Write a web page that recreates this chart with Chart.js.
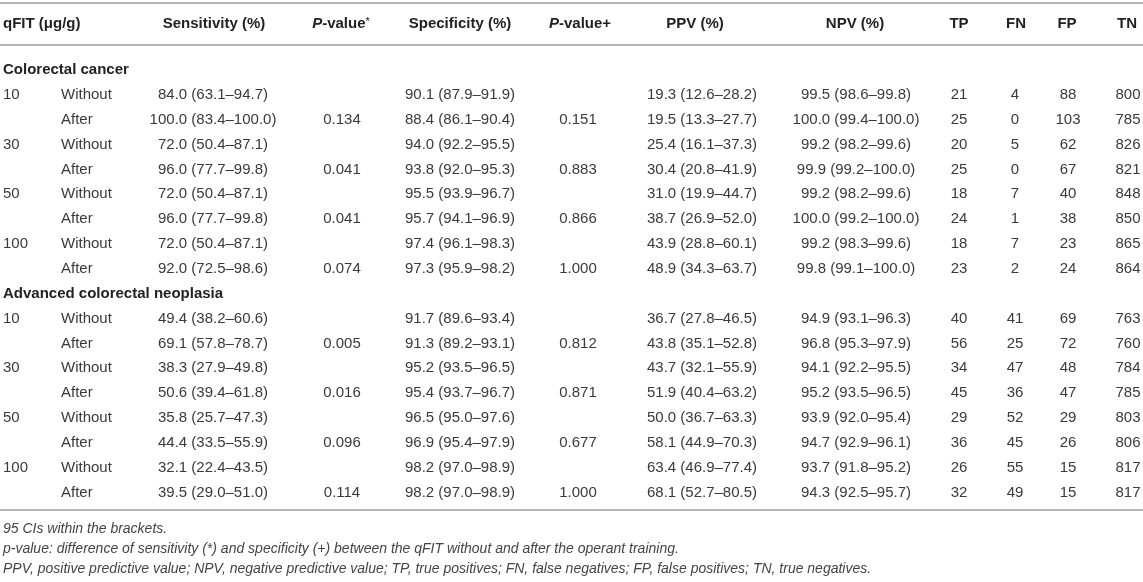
<!DOCTYPE html>
<html>
<head>
<meta charset="utf-8">
<title>qFIT without and after operant training</title>
<script src="https://cdn.jsdelivr.net/npm/chart.js@4.4.1/dist/chart.umd.min.js"></script>
<style>
  html, body { margin: 0; padding: 0; background: #fff; }
  .wrap { position: relative; width: 1143px; height: 582px; }
</style>
</head>
<body>
<div class="wrap"><canvas class="chart"></canvas></div>
<script>
const groups = ['Colorectal cancer', 'Advanced colorectal neoplasia'];
const thresholds = ['10', '30', '50', '100'];
const training = ['Without', 'After'];

// [estimate, lower CI, upper CI], 8 rows per group
const sensitivity = [
  [84.0, 63.1, 94.7], [100.0, 83.4, 100.0], [72.0, 50.4, 87.1], [96.0, 77.7, 99.8],
  [72.0, 50.4, 87.1], [96.0, 77.7, 99.8], [72.0, 50.4, 87.1], [92.0, 72.5, 98.6],
  [49.4, 38.2, 60.6], [69.1, 57.8, 78.7], [38.3, 27.9, 49.8], [50.6, 39.4, 61.8],
  [35.8, 25.7, 47.3], [44.4, 33.5, 55.9], [32.1, 22.4, 43.5], [39.5, 29.0, 51.0]
];
const pSensitivity = [null, 0.134, null, 0.041, null, 0.041, null, 0.074,
  null, 0.005, null, 0.016, null, 0.096, null, 0.114];
const specificity = [
  [90.1, 87.9, 91.9], [88.4, 86.1, 90.4], [94.0, 92.2, 95.5], [93.8, 92.0, 95.3],
  [95.5, 93.9, 96.7], [95.7, 94.1, 96.9], [97.4, 96.1, 98.3], [97.3, 95.9, 98.2],
  [91.7, 89.6, 93.4], [91.3, 89.2, 93.1], [95.2, 93.5, 96.5], [95.4, 93.7, 96.7],
  [96.5, 95.0, 97.6], [96.9, 95.4, 97.9], [98.2, 97.0, 98.9], [98.2, 97.0, 98.9]
];
const pSpecificity = [null, 0.151, null, 0.883, null, 0.866, null, 1.000,
  null, 0.812, null, 0.871, null, 0.677, null, 1.000];
const ppv = [
  [19.3, 12.6, 28.2], [19.5, 13.3, 27.7], [25.4, 16.1, 37.3], [30.4, 20.8, 41.9],
  [31.0, 19.9, 44.7], [38.7, 26.9, 52.0], [43.9, 28.8, 60.1], [48.9, 34.3, 63.7],
  [36.7, 27.8, 46.5], [43.8, 35.1, 52.8], [43.7, 32.1, 55.9], [51.9, 40.4, 63.2],
  [50.0, 36.7, 63.3], [58.1, 44.9, 70.3], [63.4, 46.9, 77.4], [68.1, 52.7, 80.5]
];
const npv = [
  [99.5, 98.6, 99.8], [100.0, 99.4, 100.0], [99.2, 98.2, 99.6], [99.9, 99.2, 100.0],
  [99.2, 98.2, 99.6], [100.0, 99.2, 100.0], [99.2, 98.3, 99.6], [99.8, 99.1, 100.0],
  [94.9, 93.1, 96.3], [96.8, 95.3, 97.9], [94.1, 92.2, 95.5], [95.2, 93.5, 96.5],
  [93.9, 92.0, 95.4], [94.7, 92.9, 96.1], [93.7, 91.8, 95.2], [94.3, 92.5, 95.7]
];
const tp = [21, 25, 20, 25, 18, 24, 18, 23, 40, 56, 34, 45, 29, 36, 26, 32];
const fn = [4, 0, 5, 0, 7, 1, 7, 2, 41, 25, 47, 36, 52, 45, 55, 49];
const fp = [88, 103, 62, 67, 40, 38, 23, 24, 69, 72, 48, 47, 29, 26, 15, 15];
const tn = [800, 785, 826, 821, 848, 850, 865, 864, 763, 760, 784, 785, 803, 806, 817, 817];

const footnotes = [
  '95 CIs within the brackets.',
  'p-value: difference of sensitivity (*) and specificity (+) between the qFIT without and after the operant training.',
  'PPV, positive predictive value; NPV, negative predictive value; TP, true positives; FN, false negatives; FP, false positives; TN, true negatives.'
];

(function() {

    let FONT = '"Liberation Sans", Arial, Helvetica, sans-serif';

    // layout: column centres on the x scale, row slots on the y scale
    let col = {
        qfit: 3, train: 61,
        sens: 213, pS: 342, spec: 460, pP: 578, ppv: 702, npv: 856,
        tp: 959, fn: 1015, fp: 1068, tn: 1128
    };
    let headCol = { sens: 214, pS: 341, spec: 460, pP: 580, ppv: 695, npv: 855, tp: 959, fn: 1016, fp: 1067, tn: 1127 };
    let rowY = { topRule: -2.696, header: -1.851, headRule: -1.006, bottomRule: 17.706, notes: [18.471, 19.276, 20.080] };

    let ci = v => `${v[0].toFixed(1)} (${v[1].toFixed(1)}\u2013${v[2].toFixed(1)})`;
    let pv = v => v === null ? '' : v.toFixed(3);

    /**
     * Builds the list of table rows from the arrays
     */
    let buildRows = () => {
        let rows = [];
        groups.forEach((g, gi) => {
            rows.push({ heading: g });
            thresholds.forEach((t, ti) => {
                training.forEach((tr, k) => {
                    let i = gi * 8 + ti * 2 + k;
                    rows.push({
                        qfit: k === 0 ? t : '',
                        train: tr,
                        sens: ci(sensitivity[i]), pS: pv(pSensitivity[i]),
                        spec: ci(specificity[i]), pP: pv(pSpecificity[i]),
                        ppv: ci(ppv[i]), npv: ci(npv[i]),
                        tp: String(tp[i]), fn: String(fn[i]), fp: String(fp[i]), tn: String(tn[i])
                    });
                });
            });
        });
        return rows;
    };

    /**
     * Draws a run of text pieces (mixed fonts) centred on x
     */
    let drawRuns = (c, runs, x, y) => {
        let total = 0;
        runs.forEach(r => { c.font = r.font; total += c.measureText(r.text).width; });
        let cx = x - total / 2;
        c.textAlign = 'left';
        runs.forEach(r => {
            c.font = r.font;
            c.fillText(r.text, cx, y + (r.dy || 0));
            cx += c.measureText(r.text).width;
        });
    };

    let tablePlugin = {
        id: 'tableDraw',
        afterDraw: chart => {
            let c = chart.ctx;
            let xs = chart.scales.x;
            let ys = chart.scales.y;
            let X = v => xs.getPixelForValue(v);
            let Y = v => ys.getPixelForValue(v);
            let rows = buildRows();

            c.save();

            // rules
            c.strokeStyle = '#b5b5b5';
            c.lineWidth = 2;
            [rowY.topRule, rowY.headRule, rowY.bottomRule].forEach(v => {
                c.beginPath();
                c.moveTo(X(0), Y(v));
                c.lineTo(X(1143), Y(v));
                c.stroke();
            });

            c.textBaseline = 'middle';

            // header
            let bold = `bold 15px ${FONT}`;
            let boldIt = `italic bold 15px ${FONT}`;
            let hy = Y(rowY.header);
            c.fillStyle = '#222';
            c.font = bold;
            c.textAlign = 'left';
            c.fillText('qFIT (\u03bcg/g)', X(col.qfit), hy);
            c.textAlign = 'center';
            c.fillText('Sensitivity (%)', X(headCol.sens), hy);
            c.fillText('Specificity (%)', X(headCol.spec), hy);
            c.fillText('PPV (%)', X(headCol.ppv), hy);
            c.fillText('NPV (%)', X(headCol.npv), hy);
            c.fillText('TP', X(headCol.tp), hy);
            c.fillText('FN', X(headCol.fn), hy);
            c.fillText('FP', X(headCol.fp), hy);
            c.fillText('TN', X(headCol.tn), hy);
            drawRuns(c, [
                { text: 'P', font: boldIt },
                { text: '-value', font: bold },
                { text: '*', font: `11px ${FONT}`, dy: -2 }
            ], X(headCol.pS), hy);
            drawRuns(c, [
                { text: 'P', font: boldIt },
                { text: '-value+', font: bold }
            ], X(headCol.pP), hy);

            // body
            let reg = `15px ${FONT}`;
            rows.forEach((r, ri) => {
                let y = Y(ri);
                if (r.heading) {
                    c.font = bold;
                    c.fillStyle = '#222';
                    c.textAlign = 'left';
                    c.fillText(r.heading, X(col.qfit), y);
                    return;
                }
                c.font = reg;
                c.fillStyle = '#3a3a3a';
                c.textAlign = 'left';
                c.fillText(r.qfit, X(col.qfit), y);
                c.fillText(r.train, X(col.train), y);
                c.textAlign = 'center';
                ['sens', 'pS', 'spec', 'pP', 'ppv', 'npv', 'tp', 'fn', 'fp', 'tn'].forEach(k => {
                    c.fillText(r[k], X(col[k]), y);
                });
            });

            // footnotes
            c.font = `italic 14px ${FONT}`;
            c.fillStyle = '#444';
            c.textAlign = 'left';
            footnotes.forEach((t, i) => {
                c.fillText(t, X(col.qfit), Y(rowY.notes[i]));
            });

            c.restore();
        }
    };

    let init = () => {
        let ctx = document.querySelector('.chart');
        new Chart(ctx, {
            type: 'scatter',
            data: { datasets: [{ data: [], pointRadius: 0 }] },
            options: {
                responsive: true,
                maintainAspectRatio: false,
                animation: false,
                events: [],
                layout: { padding: 0 },
                scales: {
                    x: { type: 'linear', display: false, min: 0, max: 1143 },
                    y: { type: 'linear', display: false, reverse: true, min: -2.817, max: 20.603 }
                },
                plugins: { legend: { display: false }, tooltip: { enabled: false } }
            },
            plugins: [tablePlugin]
        });
    };

    init();

})();
</script>
</body>
</html>
